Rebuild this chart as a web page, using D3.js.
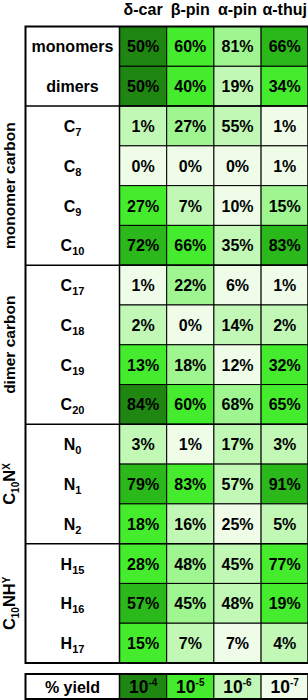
<!DOCTYPE html>
<html>
<head>
<meta charset="utf-8">
<script src="https://cdn.jsdelivr.net/npm/d3@7"></script>
<style>
  body { margin: 0; background: #fff; }
  svg { display: block; }
  text { font-family: "Liberation Sans", Arial, sans-serif; font-weight: bold; fill: #000; }
</style>
</head>
<body>
<div id="chart"></div>
<script>
// columns
var species = ["δ-car", "β-pin", "α-pin", "α-thuj"];

// rows: label base + subscript, and which block they sit in
var rowBase = ["monomers", "dimers", "C", "C", "C", "C", "C", "C", "C", "C", "N", "N", "N", "H", "H", "H"];
var rowSub  = ["", "", "7", "8", "9", "10", "17", "18", "19", "20", "0", "1", "2", "15", "16", "17"];
var rowGroup = [0, 0, 1, 1, 1, 1, 2, 2, 2, 2, 3, 3, 3, 4, 4, 4];

// side labels of the blocks (pieces: [text, kind])
var groupLabels = [
  null,
  [["monomer carbon", ""]],
  [["dimer carbon", ""]],
  [["C", ""], ["10", "sub"], ["N", ""], ["X", "sup"]],
  [["C", ""], ["10", "sub"], ["NH", ""], ["Y", "sup"]]
];

// percentages, one array per row
var values = [
  [50, 60, 81, 66],
  [50, 40, 19, 34],
  [1, 27, 55, 1],
  [0, 0, 0, 1],
  [27, 7, 10, 15],
  [72, 66, 35, 83],
  [1, 22, 6, 1],
  [2, 0, 14, 2],
  [13, 18, 12, 32],
  [84, 60, 68, 65],
  [3, 1, 17, 3],
  [79, 83, 57, 91],
  [18, 16, 25, 5],
  [28, 48, 45, 77],
  [57, 45, 48, 19],
  [15, 7, 7, 4]
];

// colour class of each cell (0 = palest .. 5 = darkest)
var levels = [
  [5, 3, 2, 4],
  [5, 3, 1, 3],
  [1, 2, 1, 0],
  [0, 0, 0, 0],
  [3, 1, 0, 2],
  [4, 3, 1, 4],
  [0, 2, 0, 0],
  [1, 0, 1, 1],
  [3, 2, 0, 3],
  [5, 3, 2, 3],
  [1, 0, 1, 1],
  [4, 3, 1, 4],
  [3, 1, 0, 1],
  [3, 2, 1, 3],
  [4, 2, 1, 3],
  [3, 1, 0, 1]
];

// yield legend row
var yieldExp = ["-4", "-5", "-6", "-7"];
var yieldLevel = [5, 3, 1, 0];

var width = 308, height = 700;
var left = 25.5, labelRight = 119.5;

var svg = d3.select("#chart").append("svg")
    .attr("width", width)
    .attr("height", height);

var color = d3.scaleOrdinal()
    .domain([0, 1, 2, 3, 4, 5])
    .range(["#eefce8", "#c1f8b6", "#9ff590", "#45ec2e", "#2ab81a", "#1f8612"]);

var x = d3.scaleBand()
    .domain(species)
    .range([labelRight, 308.3]);

var y = d3.scaleBand()
    .domain(d3.range(values.length))
    .range([26.5, 663]);

// header
svg.append("g").selectAll("text")
  .data(species)
  .enter().append("text")
    .attr("x", function(d) { return x(d) + x.bandwidth() / 2; })
    .attr("y", 15)
    .attr("text-anchor", "middle")
    .style("font-size", "16px")
    .text(function(d) { return d; });

// cells
var cells = [];
values.forEach(function(row, i) {
  row.forEach(function(v, j) {
    cells.push({ row: i, sp: species[j], v: v, lvl: levels[i][j] });
  });
});

svg.append("g").selectAll("rect")
  .data(cells)
  .enter().append("rect")
    .attr("x", function(d) { return x(d.sp); })
    .attr("y", function(d) { return y(d.row); })
    .attr("width", x.bandwidth())
    .attr("height", y.bandwidth())
    .attr("fill", function(d) { return color(d.lvl); })
    .attr("stroke", "#000")
    .attr("stroke-width", 1);

svg.append("g").selectAll("text")
  .data(cells)
  .enter().append("text")
    .attr("x", function(d) { return x(d.sp) + x.bandwidth() / 2; })
    .attr("y", function(d) { return y(d.row) + y.bandwidth() / 2 + 6; })
    .attr("text-anchor", "middle")
    .style("font-size", "16px")
    .text(function(d) { return d.v + "%"; });

// row labels
var rowLab = svg.append("g").selectAll("text")
  .data(rowBase)
  .enter().append("text")
    .attr("x", (left + labelRight) / 2)
    .attr("y", function(d, i) { return y(i) + y.bandwidth() / 2 + 6; })
    .attr("text-anchor", "middle")
    .style("font-size", "16px");
rowLab.append("tspan").text(function(d) { return d; });
rowLab.append("tspan")
    .attr("dy", 4)
    .style("font-size", "11px")
    .text(function(d, i) { return rowSub[i]; });

// block separators and side labels
var groupIds = d3.range(groupLabels.length);
groupIds.forEach(function(g) {
  var idx = rowGroup.map(function(r, i) { return r === g ? i : -1; }).filter(function(i) { return i >= 0; });
  var top = y(idx[0]), bottom = y(idx[idx.length - 1]) + y.bandwidth();
  if (g > 0) {
    svg.append("line")
      .attr("x1", left).attr("x2", width)
      .attr("y1", top).attr("y2", top)
      .attr("stroke", "#000").attr("stroke-width", 1.5);
    var t = svg.append("text")
      .attr("transform", "translate(15," + ((top + bottom) / 2) + ") rotate(-90)")
      .attr("text-anchor", "middle")
      .style("font-size", g < 3 ? "15.5px" : "16.5px");
    var shift = 0;
    groupLabels[g].forEach(function(p) {
      var ts = t.append("tspan").text(p[0]);
      var base = p[1] === "sub" ? 4 : p[1] === "sup" ? -5 : 0;
      ts.attr("dy", base - shift);
      shift = base;
      if (p[1]) ts.style("font-size", "10px");
    });
  }
});

// label column divider and outer frame
svg.append("line")
    .attr("x1", labelRight).attr("x2", labelRight)
    .attr("y1", y.range()[0]).attr("y2", y.range()[1])
    .attr("stroke", "#000").attr("stroke-width", 1.5);
svg.append("rect")
    .attr("x", left).attr("y", y.range()[0])
    .attr("width", 308.3 - left).attr("height", y.range()[1] - y.range()[0])
    .attr("fill", "none").attr("stroke", "#000").attr("stroke-width", 2);

// yield row
var yTop = 674, yH = 25;
var yieldG = svg.append("g");
yieldG.selectAll("rect")
  .data(species)
  .enter().append("rect")
    .attr("x", function(d) { return x(d); })
    .attr("y", yTop)
    .attr("width", x.bandwidth())
    .attr("height", yH)
    .attr("fill", function(d, i) { return color(yieldLevel[i]); })
    .attr("stroke", "#000").attr("stroke-width", 1);
var yt = yieldG.selectAll("text.yv")
  .data(species)
  .enter().append("text")
    .attr("class", "yv")
    .attr("x", function(d) { return x(d) + x.bandwidth() / 2; })
    .attr("y", yTop + yH / 2 + 6.5)
    .attr("text-anchor", "middle")
    .style("font-size", "17.5px");
yt.append("tspan").text("10");
yt.append("tspan")
    .attr("dy", -7)
    .style("font-size", "10px")
    .text(function(d, i) { return yieldExp[i]; });
yieldG.append("text")
    .attr("x", (left + labelRight) / 2)
    .attr("y", yTop + yH / 2 + 6)
    .attr("text-anchor", "middle")
    .style("font-size", "16px")
    .text("% yield");
yieldG.append("line")
    .attr("x1", labelRight).attr("x2", labelRight)
    .attr("y1", yTop).attr("y2", yTop + yH)
    .attr("stroke", "#000").attr("stroke-width", 1.5);
yieldG.append("rect")
    .attr("x", left).attr("y", yTop)
    .attr("width", 308.3 - left).attr("height", yH)
    .attr("fill", "none").attr("stroke", "#000").attr("stroke-width", 2);
</script>
</body>
</html>
